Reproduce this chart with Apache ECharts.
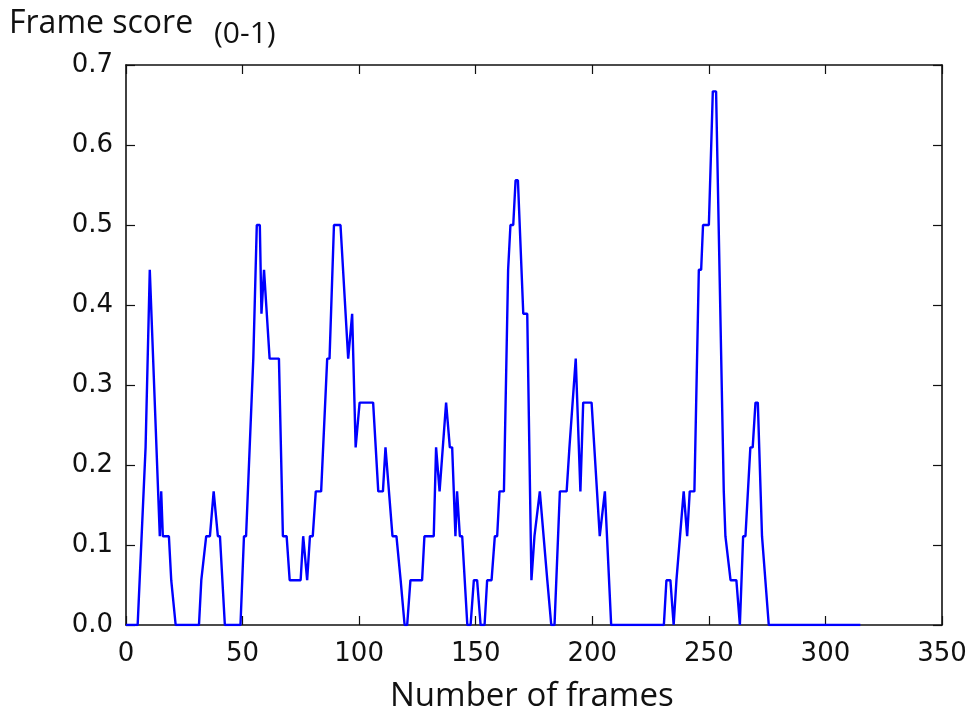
<!DOCTYPE html>
<html><head><meta charset="utf-8">
<script src="https://cdn.jsdelivr.net/npm/echarts@6/dist/echarts.min.js"></script>
<style>html,body{margin:0;padding:0;background:#fff}#c{width:973px;height:717px}</style>
</head><body><div id="c"></div>
<script>
const frames = [0,5,8.4,10.2,14.5,15.1,15.8,18.4,19.4,20.1,21.3,31.3,32.3,33.1,34.4,36,37.6,38.4,39.4,40.3,42.4,49.1,50.6,51.5,54.6,56.1,57.4,58.1,59.2,61.6,65.6,67.3,68.9,70.2,74.9,76,77.7,78.9,80.1,81.4,83.7,86.3,87.3,89.2,92,95.3,97,98.5,100.2,106,108.2,110.2,111.3,114.3,116,117.8,118.5,119.5,120.6,122,127,128,132,133,134.5,135.2,137.3,138,138.9,139.9,141.3,142,143.2,144.2,146.4,147.8,149.2,150.6,152.1,153.8,154.9,156.8,158.2,159.2,160.2,162.1,163.9,164.9,166.1,167.1,168.1,170.4,172.1,173.9,175.2,176,177.5,178.1,180.7,181.1,182.4,183.8,186.1,189,190.2,191,192.9,194.9,196.1,199.7,203.2,205.4,206,208.1,230.7,231.8,233.5,234.9,236.1,236.8,239.2,240.7,241.8,243.8,245.7,246.7,247.5,250,251.7,253.1,256.4,257.1,257.8,259.3,261.8,263.3,264.7,265.7,267.8,268.8,270,271,272.8,273.5,275.7,315];
const scores = [0,0,0.222,0.444,0.111,0.167,0.111,0.111,0.056,0.056,0,0,0.056,0.056,0.111,0.111,0.167,0.167,0.111,0.111,0,0,0.111,0.111,0.333,0.5,0.5,0.389,0.444,0.333,0.333,0.111,0.111,0.056,0.056,0.111,0.056,0.111,0.111,0.167,0.167,0.333,0.333,0.5,0.5,0.333,0.389,0.222,0.278,0.278,0.167,0.167,0.222,0.111,0.111,0.056,0.056,0,0,0.056,0.056,0.111,0.111,0.222,0.167,0.167,0.278,0.278,0.222,0.222,0.111,0.167,0.111,0.111,0,0,0.056,0.056,0,0,0.056,0.056,0.111,0.111,0.167,0.167,0.444,0.5,0.5,0.556,0.556,0.389,0.389,0.056,0.111,0.111,0.167,0.167,0.056,0.056,0,0,0.167,0.167,0.222,0.222,0.333,0.167,0.278,0.278,0.111,0.167,0.167,0,0,0.056,0.056,0,0.056,0.056,0.167,0.111,0.167,0.167,0.444,0.444,0.5,0.5,0.667,0.667,0.167,0.111,0.111,0.056,0.056,0,0.111,0.111,0.222,0.222,0.278,0.278,0.111,0.111,0,0];
const xTicks = [0,50,100,150,200,250,300,350];
const yTicks = ['0.0','0.1','0.2','0.3','0.4','0.5','0.6','0.7'];
const yTitle = 'Frame score';
const yTitleUnit = '(0-1)';
const xTitle = 'Number of frames';

const data = frames.map((f,i)=>[f,scores[i]]);
const chart = echarts.init(document.getElementById('c'));
const tickFont = {fontFamily:'DejaVu Sans', fontSize:26, color:'#111'};
const axisLine = {show:true, onZero:false, lineStyle:{color:'#111', width:1.6}};
const axisTick = {show:true, inside:true, length:9, lineStyle:{color:'#111', width:1.2}};
chart.setOption({
  animation:false,
  grid:{left:126, top:65, right:31, bottom:92, containLabel:false},
  xAxis:[
    {type:'value', min:0, max:350, interval:50, position:'bottom', axisLine, axisTick, splitLine:{show:false},
     axisLabel:Object.assign({margin:16, formatter:v=>String(xTicks[Math.round(v/50)])}, tickFont)},
    {type:'value', min:0, max:350, interval:50, position:'top', axisLine, axisTick, splitLine:{show:false}, axisLabel:{show:false}}
  ],
  yAxis:[
    {type:'value', min:0, max:0.7, interval:0.1, position:'left', axisLine, axisTick, splitLine:{show:false},
     axisLabel:Object.assign({margin:13, formatter:v=>yTicks[Math.round(v*10)]}, tickFont)},
    {type:'value', min:0, max:0.7, interval:0.1, position:'right', axisLine, axisTick, splitLine:{show:false}, axisLabel:{show:false}}
  ],
  graphic:[
    {type:'text', left:9, top:8, style:{text:yTitle, fontFamily:'Open Sans', fontSize:32, fill:'#111'}},
    {type:'text', left:214, top:19, style:{text:yTitleUnit, fontFamily:'Open Sans', fontSize:30, fill:'#111'}},
    {type:'text', left:390, top:680, style:{text:xTitle, fontFamily:'Open Sans', fontSize:33, fill:'#111'}}
  ],
  series:[{type:'line', data, xAxisIndex:0, yAxisIndex:0, showSymbol:false, symbol:'none',
    lineStyle:{color:'#0000ff', width:2.4}, z:1}]
});
</script></body></html>
